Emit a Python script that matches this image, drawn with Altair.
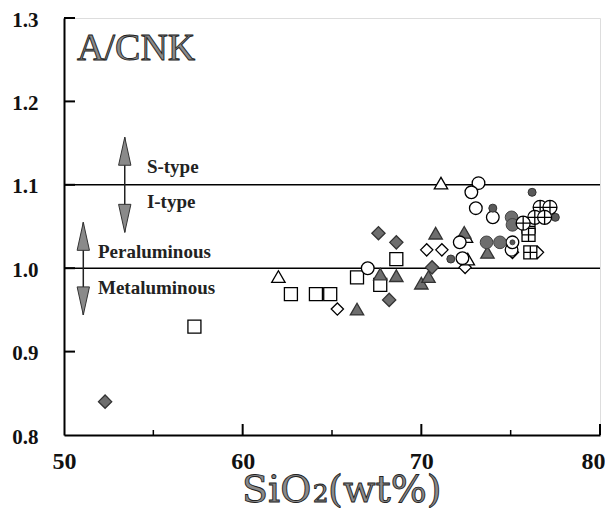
import altair as alt
import pandas as pd

# ---- data (SiO2 wt%, A/CNK) ----
fd_x = [52.3, 67.6, 68.6, 68.2, 70.6]            # filled grey diamonds
fd_y = [0.840, 1.042, 1.031, 0.962, 1.001]

sq_x = [57.3, 62.7, 64.1, 64.9, 66.4, 67.7, 68.6]  # open squares
sq_y = [0.930, 0.969, 0.969, 0.969, 0.989, 0.980, 1.011]

ot_x = [62.0, 71.1, 72.5, 72.6]                  # open triangles
ot_y = [0.990, 1.102, 1.038, 1.011]

ft_x = [66.4, 67.7, 68.6, 70.0, 70.4, 70.8, 72.4, 73.7]   # filled triangles
ft_y = [0.951, 0.993, 0.991, 0.982, 0.990, 1.042, 1.043, 1.019]

od_x = [65.3, 70.3, 71.15, 72.45, 75.1, 76.5]    # open diamonds
od_y = [0.951, 1.022, 1.022, 1.001, 1.019, 1.019]

oc_x = [67.0, 73.2, 72.8, 73.05, 74.0, 72.15, 72.3, 75.05]  # open circles
oc_y = [1.000, 1.102, 1.091, 1.072, 1.061, 1.031, 1.012, 1.022]

cd_x = [75.1]                                    # circle with dot
cd_y = [1.031]

gc_x = [73.65, 74.4, 75.05, 75.1]                # large grey circles
gc_y = [1.031, 1.031, 1.061, 1.052]

sc_x = [76.2, 74.0, 71.65, 77.5]                 # small dark circles
sc_y = [1.091, 1.072, 1.011, 1.061]

cc_x = [76.65, 77.2, 76.35, 76.9, 75.7]          # crossed circles
cc_y = [1.073, 1.073, 1.061, 1.061, 1.054]

gs_x = [76.0, 76.0, 76.1]                        # gridded squares
gs_y = [1.050, 1.040, 1.019]

ref_y = [1.0, 1.1]
x_major = [60, 70, 80]
x_minor = [55, 65, 75]
y_major = [0.9, 1.0, 1.1, 1.2, 1.3]

arrow_x = [53.4, 51.08]
arrow_top = [1.157, 1.055]
arrow_bot = [1.043, 0.944]

lab_text = ["S-type", "I-type", "Peraluminous", "Metaluminous"]
lab_x = [54.64, 54.64, 51.9, 51.9]
lab_y = [1.121, 1.079, 1.019, 0.976]

# x-axis title pieces: "SiO", subscript "2", "(wt%)"
xt_text = ["SiO", "2", "(wt%)"]
xt_x = [59.96, 63.92, 64.78]
xt_size = [38, 25, 38]

W, H = 536, 417
SERIF = "Liberation Serif"
WIDE_SERIF = "DejaVu Serif"

X = alt.X('x:Q', scale=alt.Scale(domain=[50, 80], nice=False, zero=False),
          axis=alt.Axis(values=[50, 60, 70, 80], ticks=False, tickSize=0, grid=False,
                        domainColor='black', domainWidth=2, labelFont=SERIF,
                        labelFontSize=24, labelFontWeight='bold', labelColor='#111',
                        labelPadding=14, labelFlush=False, title='',
                        labelAlign={"condition": {"test": "datum.value == 80", "value": "right"},
                                    "value": "center"},
                        labelOffset={"condition": {"test": "datum.value == 80", "value": 5},
                                     "value": 0}))
Y = alt.Y('y:Q', scale=alt.Scale(domain=[0.8, 1.3], nice=False, zero=False),
          axis=alt.Axis(values=[0.8, 0.9, 1.0, 1.1, 1.2, 1.3], format='.1f', ticks=False,
                        tickSize=0, grid=False, domainColor='black', domainWidth=2,
                        labelFont=SERIF, labelFontSize=21, labelFontWeight='bold',
                        labelColor='#111', labelPadding=26, labelOffset=2,
                        labelFlush=False, title=''))


def df(xs, ys):
    return pd.DataFrame({'x': xs, 'y': ys})


def pts(xs, ys, shape, size, fill, stroke='black', sw=1.3):
    return alt.Chart(df(xs, ys)).mark_point(
        shape=shape, size=size, filled=True, fill=fill, stroke=stroke,
        strokeWidth=sw, opacity=1, fillOpacity=1, strokeOpacity=1
    ).encode(x=X, y=Y)


# reference lines
ref = alt.Chart(pd.DataFrame({'y': ref_y, 'x': [50, 50], 'x2': [80, 80]})).mark_rule(
    color='black', strokeWidth=1.6).encode(x=X, x2='x2:Q', y=Y)

# inward ticks
xt_major = alt.Chart(pd.DataFrame({'x': x_major})).mark_rule(color='black', strokeWidth=2).encode(
    x=X, y=alt.value(H), y2=alt.value(H - 11))
xt_minor = alt.Chart(pd.DataFrame({'x': x_minor})).mark_rule(color='black', strokeWidth=1.5).encode(
    x=X, y=alt.value(H), y2=alt.value(H - 5))
yt_major = alt.Chart(pd.DataFrame({'y': y_major})).mark_rule(color='black', strokeWidth=2).encode(
    y=Y, x=alt.value(0), x2=alt.value(11))

# arrows
arr_df = pd.DataFrame({'x': arrow_x, 'y': arrow_top, 'y2': arrow_bot})
shaft = alt.Chart(arr_df).mark_rule(color='#222', strokeWidth=1.5).encode(x=X, y=Y, y2='y2:Q')
head_up = alt.Chart(df(arrow_x, arrow_top)).mark_point(
    shape='M0,0L0.44,2L-0.44,2Z', size=784, filled=True, fill='#8a8a8a', stroke='#333',
    strokeWidth=1, opacity=1).encode(x=X, y=Y)
head_dn = alt.Chart(df(arrow_x, arrow_bot)).mark_point(
    shape='M0,0L0.44,-2L-0.44,-2Z', size=784, filled=True, fill='#8a8a8a', stroke='#333',
    strokeWidth=1, opacity=1).encode(x=X, y=Y)

labels = alt.Chart(pd.DataFrame({'x': lab_x, 'y': lab_y, 't': lab_text})).mark_text(
    align='left', baseline='middle', font=SERIF, fontSize=19, fontWeight='bold', color='#222'
).encode(x=X, y=Y, text='t:N')

title_in = alt.Chart(pd.DataFrame({'x': [50.73], 'y': [1.250], 't': ['A/CNK']})).mark_text(
    align='left', baseline='alphabetic', font=SERIF, fontSize=38, fill='#8a8a8a',
    stroke='#222', strokeWidth=0.9
).encode(x=X, y=Y, text='t:N')

xtitle = alt.Chart(pd.DataFrame({'x': xt_x, 't': xt_text, 's': xt_size})).mark_text(
    align='left', baseline='alphabetic', font=WIDE_SERIF, fill='#8a8a8a',
    stroke='#222', strokeWidth=0.9
).encode(x=X, y=alt.value(H + 67), text='t:N',
         size=alt.Size('s:Q', scale=None, legend=None))

C_CROSS = 'M-1,0A1,1,0,1,1,1,0A1,1,0,1,1,-1,0Z M-1,0L1,0 M0,-1L0,1'
C_GRID = 'M-1,-1L1,-1L1,1L-1,1Z M0,-1L0,1 M-1,0L1,0'

layers = [
    ref, xt_major, xt_minor, yt_major, shaft, head_up, head_dn, labels, title_in, xtitle,
    pts(sq_x, sq_y, 'square', 169, 'white'),
    pts(od_x, od_y, 'diamond', 150, 'white'),
    pts(fd_x, fd_y, 'diamond', 175, '#6e6e6e', '#333'),
    pts(ot_x, ot_y, 'triangle-up', 180, 'white'),
    pts(ft_x, ft_y, 'triangle-up', 180, '#6e6e6e', '#333'),
    pts(oc_x, oc_y, 'circle', 160, 'white'),
    pts(cd_x, cd_y, 'circle', 160, 'white'),
    pts(cd_x, cd_y, 'circle', 25, '#555', '#333', 0.8),
    pts(gc_x, gc_y, 'circle', 160, '#6e6e6e', '#444', 1),
    pts(sc_x, sc_y, 'circle', 64, '#5a5a5a', '#333', 1),
    pts(gs_x, gs_y, C_GRID, 169, 'white'),
    pts(cc_x, cc_y, C_CROSS, 196, 'white'),
]

chart = alt.layer(*layers).properties(
    width=W, height=H,
    autosize=alt.AutoSizeParams(type='none'),
    padding={'left': 56, 'top': 10, 'right': 5, 'bottom': 73},
).configure_view(strokeWidth=0).configure(background='white')

chart.save("out.html", embed_options={"renderer": "svg", "actions": False})
